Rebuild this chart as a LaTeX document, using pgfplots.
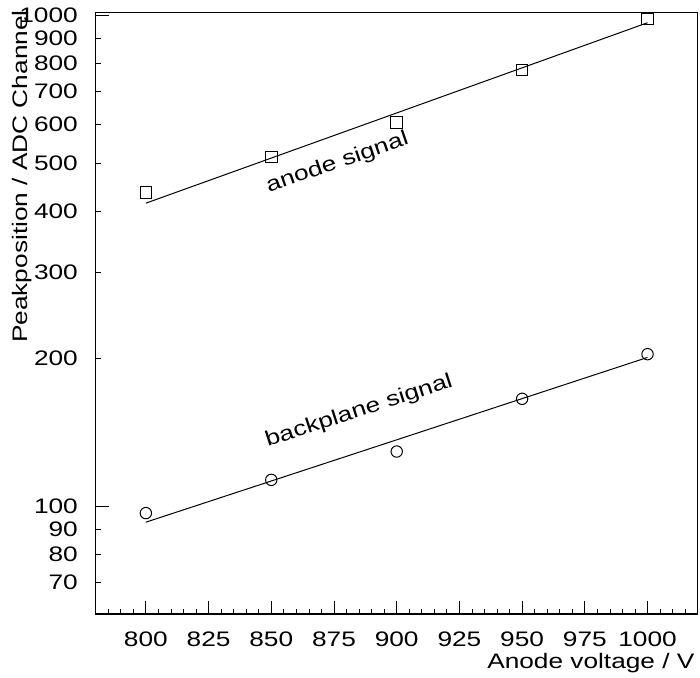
\documentclass[border=0pt]{standalone}
\usepackage{fontspec}
\setmainfont{Liberation Sans}[FakeStretch=1.25]
\usepackage{pgfplots}
\pgfplotsset{compat=1.18}
\begin{document}
\fontsize{21}{25}\selectfont
\begin{tikzpicture}
\useasboundingbox (-95.7pt,-63pt) rectangle (604.3pt,614pt);
\begin{axis}[name=ax, at={(0,0)}, anchor=south west,
  scale only axis, width=602pt, height=601.5pt,
  ymode=log, xmin=780, xmax=1020, ymin=60.4, ymax=1014.6,
  axis line style={line width=1.2pt},
  /pgf/number format/assume math mode=true,
  tick label style={font=\fontsize{21}{25}\selectfont},
  tick style={line width=0.8pt, black},
  xtick={800,825,...,1000},
  xticklabels={800,825,850,875,900,925,950,975,1000},
  minor xtick={785,790,795,805,810,815,820,830,835,840,845,855,860,865,870,880,885,890,895,905,910,915,920,930,935,940,945,955,960,965,970,980,985,990,995,1005,1010,1015},
  ytick={70,80,90,100,200,300,400,500,600,700,800,900,1000},
  yticklabels={70,80,90,100,200,300,400,500,600,700,800,900,1000},
  minor ytick={},
  major tick length=5pt, minor tick length=5pt,
  extra x ticks={800,825,...,1000}, extra x tick labels={},
  extra y ticks={100,1000}, extra y tick labels={},
  extra tick style={major tick length=13pt},
  xtick pos=lower, ytick pos=left, tick align=inside,
  xticklabel style={anchor=base, inner sep=0pt, yshift=-33pt},
  yticklabel style={anchor=east, inner sep=0pt, xshift=-17.7pt},
  clip=false,
]
% anode signal
\addplot[only marks, mark=square, mark size=5.85pt, mark options={line width=1pt}] coordinates {
  (800,435.9) (850,515.4) (900,606.5) (950,774.8) (1000,984.2)};
\addplot[no marks, line width=1pt] coordinates {(800,414.8) (1000,967)};
% backplane signal
\addplot[only marks, mark=o, mark size=5.7pt, mark options={line width=1pt}] coordinates {
  (800,96.95) (850,113.3) (900,129.4) (950,165.7) (1000,204.3)};
\addplot[no marks, line width=1pt] coordinates {(800,92.9) (1000,201.2)};
\node[rotate=19, anchor=base, font=\fontsize{21}{25}\selectfont] at (axis cs:877.1,488.7) {anode signal};
\node[rotate=18, anchor=base, font=\fontsize{21}{25}\selectfont] at (axis cs:885.7,152.5) {backplane signal};
\end{axis}
\node[rotate=90, anchor=base east, inner sep=0pt] at ([xshift=-67.7pt,yshift=2.5pt]ax.north west) {Peakposition / ADC Channel};
\node[anchor=base east, inner sep=0pt] at ([xshift=-3pt,yshift=-54pt]ax.south east) {Anode voltage / V};
\end{tikzpicture}
\end{document}
